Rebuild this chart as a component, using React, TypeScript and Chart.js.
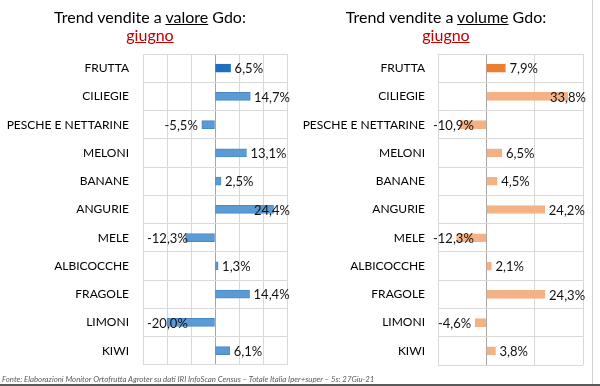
import React, { useEffect, useRef } from "react";
import { Chart, registerables } from "chart.js";

Chart.register(...registerables);

const categories = [
  "FRUTTA",
  "CILIEGIE",
  "PESCHE E NETTARINE",
  "MELONI",
  "BANANE",
  "ANGURIE",
  "MELE",
  "ALBICOCCHE",
  "FRAGOLE",
  "LIMONI",
  "KIWI",
];
const valoreValues = [6.5, 14.7, -5.5, 13.1, 2.5, 24.4, -12.3, 1.3, 14.4, -20.0, 6.1];
const volumeValues = [7.9, 33.8, -10.9, 6.5, 4.5, 24.2, -12.3, 2.1, 24.3, -4.6, 3.8];
const valoreAxis = { min: -30, max: 30, step: 10 };
const volumeAxis = { min: -20, max: 40, step: 20 };

const FONT = "Lato, 'Open Sans', sans-serif";

const labelPlugin = {
  id: "barLabels",
  afterDatasetsDraw(chart: any, _args: any, opts: any) {
    const ctx = chart.ctx;
    const area = chart.chartArea;
    const meta = chart.getDatasetMeta(0);
    const data = chart.data.datasets[0].data as number[];
    ctx.save();
    ctx.font = `13px ${FONT}`;
    ctx.fillStyle = "#111111";
    ctx.textBaseline = "middle";
    ctx.textAlign = "left";
    meta.data.forEach((el: any, i: number) => {
      const v = data[i];
      const text = v.toFixed(1).replace(".", ",") + "%";
      const w = ctx.measureText(text).width;
      let tx: number;
      if (v >= 0) {
        tx = el.x + 4;
        if (tx + w > area.right + 3) tx = area.right + 3 - w;
      } else {
        tx = el.x - 4 - w;
        if (tx < area.left + opts.leftClamp) tx = area.left + opts.leftClamp;
      }
      ctx.fillText(text, tx, el.y + 1);
    });
    ctx.restore();
  },
};

function BarPanel(props: {
  values: number[];
  axis: { min: number; max: number; step: number };
  mainColor: string;
  otherColor: string;
  borderColor: string;
  axisWidth: number;
  rightPad: number;
  tickPad: number;
  leftClamp: number;
}) {
  const ref = useRef<HTMLCanvasElement>(null);
  useEffect(() => {
    if (!ref.current) return;
    const colors = props.values.map((_, i) => (i === 0 ? props.mainColor : props.otherColor));
    const borders = props.values.map((_, i) => (i === 0 ? props.mainColor : props.borderColor));
    const chart = new Chart(ref.current, {
      type: "bar",
      data: {
        labels: categories,
        datasets: [
          {
            data: props.values,
            backgroundColor: colors,
            borderColor: borders,
            borderWidth: 1,
            borderSkipped: false,
            barThickness: 8,
          },
        ],
      },
      plugins: [labelPlugin],
      options: {
        indexAxis: "y",
        responsive: false,
        animation: false,
        layout: { padding: { left: 0, right: props.rightPad, top: 54, bottom: 21 } },
        plugins: {
          legend: { display: false },
          tooltip: { enabled: false },
          barLabels: { leftClamp: props.leftClamp },
        } as any,
        scales: {
          x: {
            min: props.axis.min,
            max: props.axis.max,
            ticks: { display: false, stepSize: props.axis.step },
            border: { display: false },
            grid: {
              drawTicks: false,
              color: (c: any) => (c.tick && c.tick.value === 0 ? "#A6A6A6" : "#D9D9D9"),
              lineWidth: 1,
            },
            afterFit: (s: any) => {
              s.height = 0;
            },
          },
          y: {
            ticks: {
              color: "#000000",
              font: { family: FONT, size: 12 },
              padding: props.tickPad,
            },
            border: { display: false },
            grid: { drawTicks: false, color: "#D9D9D9", offset: true },
            afterFit: (s: any) => {
              s.width = props.axisWidth;
            },
          },
        },
      },
    });
    return () => chart.destroy();
  }, []);
  return <canvas ref={ref} width={300} height={386} style={{ display: "block" }} />;
}

export default function App() {
  useEffect(() => {
    document.body.style.margin = "0";
  }, []);
  const titleStyle: React.CSSProperties = {
    position: "absolute",
    top: 8,
    width: 300,
    textAlign: "center",
    fontFamily: FONT,
    fontSize: 16,
    lineHeight: "18px",
    color: "#000000",
  };
  const redStyle: React.CSSProperties = { color: "#C00000", textDecoration: "underline" };
  return (
    <div style={{ position: "relative", width: 600, height: 386, background: "#fff", overflow: "hidden" }}>
      <div style={{ position: "absolute", left: 0, top: 0 }}>
        <BarPanel
          values={valoreValues}
          axis={valoreAxis}
          mainColor="#1F6FC0"
          otherColor="#5B9BD5"
          borderColor="#4A88C8"
          axisWidth={143}
          rightPad={13}
          tickPad={14}
          leftClamp={4}
        />
      </div>
      <div style={{ position: "absolute", left: 300, top: 0 }}>
        <BarPanel
          values={volumeValues}
          axis={volumeAxis}
          mainColor="#ED7D31"
          otherColor="#F4B183"
          borderColor="#F4B183"
          axisWidth={138}
          rightPad={17}
          tickPad={13}
          leftClamp={-5}
        />
      </div>
      <div style={{ ...titleStyle, left: 0 }}>
        Trend vendite a <span style={{ textDecoration: "underline" }}>valore</span> Gdo:
        <br />
        <span style={redStyle}>giugno</span>
      </div>
      <div style={{ ...titleStyle, left: 296 }}>
        Trend vendite a <span style={{ textDecoration: "underline" }}>volume</span> Gdo:
        <br />
        <span style={redStyle}>giugno</span>
      </div>
      <div
        style={{
          position: "absolute",
          left: 2,
          top: 374,
          fontFamily: FONT,
          fontStyle: "italic",
          fontSize: 7.8,
          lineHeight: "10px",
          color: "#595959",
          whiteSpace: "nowrap",
        }}
      >
        Fonte: Elaborazioni Monitor Ortofrutta Agroter su dati IRI InfoScan Census – Totale Italia Iper+super – 5s: 27Giu-21
      </div>
      <div style={{ position: "absolute", left: 592, top: 0, width: 1, height: 384, background: "#D0D0D0" }} />
      <div style={{ position: "absolute", left: 0, top: 384, width: 600, height: 2, background: "#5a5a5a" }} />
    </div>
  );
}
